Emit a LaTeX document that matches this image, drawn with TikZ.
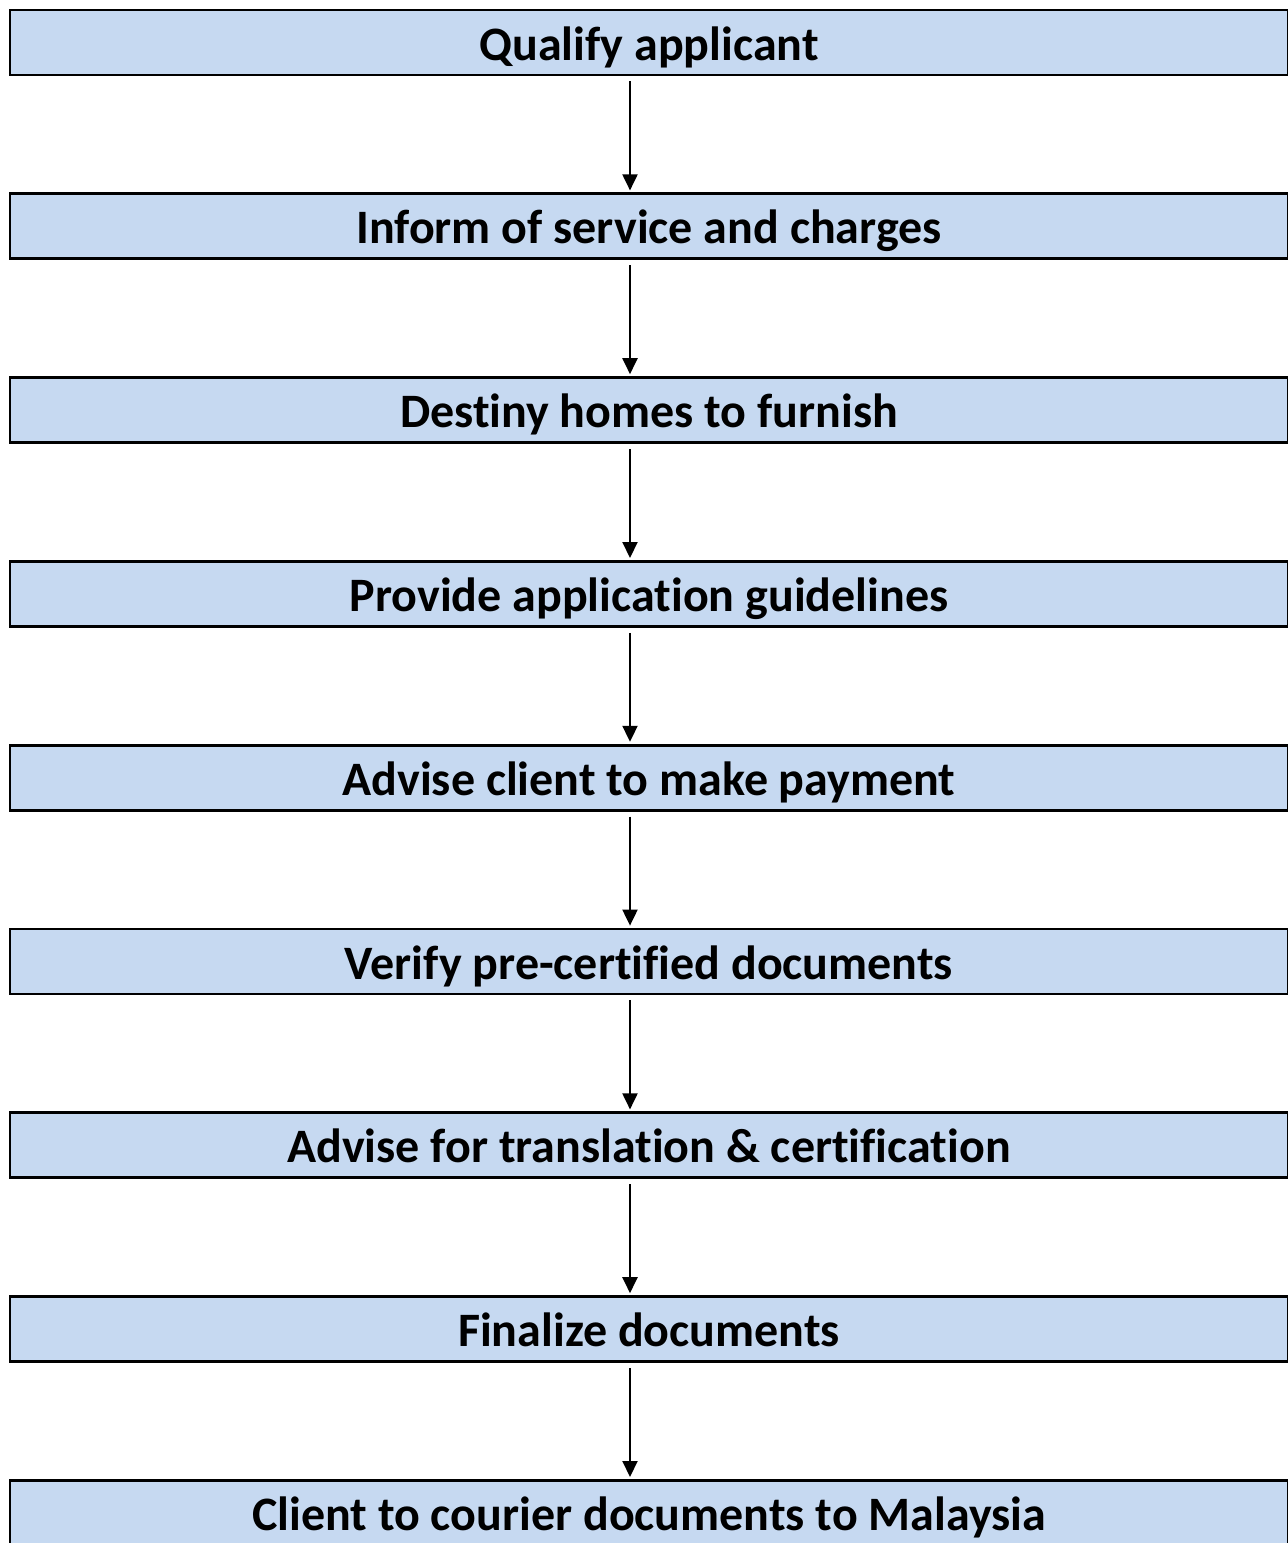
\documentclass[tikz,border=0pt]{standalone}
\usepackage{fontspec}
\setmainfont[Ligatures=NoCommon]{Carlito}
\usetikzlibrary{arrows.meta,positioning}
\definecolor{stepblue}{HTML}{C6D9F1}
\tikzset{stepbox/.style={
            draw,
            fill=stepblue,
            line width=1.4pt,
            inner sep=0pt,
            minimum width=639pt,
            minimum height=32.5pt,
            text height=22pt,
            text depth=4.5pt,
            font=\fontsize{24}{28}\selectfont\bfseries
        },
        flow/.style={
            line width=1pt,
            -{Triangle[width=7.5pt,length=8pt]},
            shorten <=2.5pt,
            shorten >=1pt
        }
    }

\begin{document}
\begin{tikzpicture}[node distance=58pt]
        \useasboundingbox (0,0) rectangle (643.5pt,-771.5pt);
        \node[stepbox] at (324.5pt,-21.25pt) (qualify) {Qualify applicant};
        \node[stepbox,below=of qualify] (inform) {Inform of service and charges};
        \node[stepbox,below=of inform] (destiny) {Destiny homes to furnish};
        \node[stepbox,below=of destiny] (guide) {Provide application guidelines};
        \node[stepbox,below=of guide] (payment) {Advise client to make payment};
        \node[stepbox,below=of payment] (verify) {Verify pre-certified documents};
        \node[stepbox,below=of verify] (translate) {Advise for translation \& certification};
        \node[stepbox,below=of translate] (finalize) {Finalize documents};
        \node[stepbox,below=of finalize] (courier) {Client to courier documents to Malaysia};
        \foreach \a/\b in {qualify/inform,inform/destiny,destiny/guide,guide/payment,
                payment/verify,verify/translate,translate/finalize,finalize/courier}
            \draw[flow] ([xshift=-9.5pt]\a.south) -- ([xshift=-9.5pt]\b.north);
    \end{tikzpicture}
\end{document}
